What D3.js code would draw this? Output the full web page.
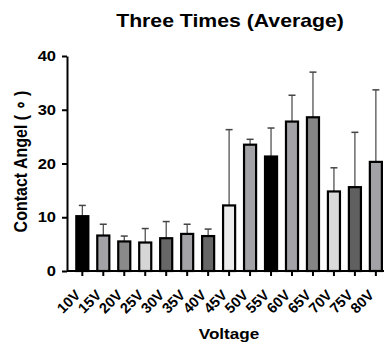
<!DOCTYPE html>
<html>
<head>
<meta charset="utf-8">
<script src="https://cdn.jsdelivr.net/npm/d3@7"></script>
<style>
  html, body { margin: 0; padding: 0; background: #fff; }
  svg { display: block; font-family: "Liberation Sans", Arial, sans-serif; }
</style>
</head>
<body>
<svg id="chart" width="390" height="345"></svg>
<script>
(function() {
    'use strict';

    // Data
    const voltages = ['10V', '15V', '20V', '25V', '30V', '35V', '40V', '45V',
                      '50V', '55V', '60V', '65V', '70V', '75V', '80V'];
    const means = [10.2, 6.6, 5.5, 5.3, 6.1, 6.9, 6.5, 12.2,
                   23.5, 21.3, 27.8, 28.6, 14.8, 15.6, 20.3];
    const errors = [2.0, 2.1, 1.0, 2.6, 3.1, 1.8, 1.3, 14.1,
                    1.0, 5.3, 4.9, 8.4, 4.4, 10.2, 13.4];
    const fills = ['#000000', '#a2a2a7', '#8a8a8a', '#d6d6d6', '#676767', '#a2a2a7', '#666666', '#ececec',
                   '#a2a2a7', '#000000', '#a2a2a7', '#858585', '#dadada', '#606060', '#a2a2a7'];
    const yTicks = [0, 10, 20, 30, 40];

    // the reference lettering is a bit wider than Liberation Sans
    const stretch = 1.18;

    const svg = d3.select('#chart');

    const x = d3.scaleBand()
        .domain(voltages)
        .range([75.3, 382.9])
        .paddingInner(0.33)
        .paddingOuter(0);

    const y = d3.scaleLinear()
        .domain([0, 40])
        .range([271, 56]);

    const axisX0 = 67;
    const axisX1 = 384;

    function label(px, py, txt, size, anchor, rot, sx) {
        const k = sx === undefined ? stretch : sx;
        return svg.append('text')
            .attr('transform', `translate(${px},${py}) scale(${k},1)` + (rot ? ` rotate(${rot})` : ''))
            .attr('text-anchor', anchor)
            .style('font-size', size + 'px')
            .style('font-weight', 'bold')
            .attr('fill', '#000')
            .text(txt);
    }

    // Title
    label(230, 27, 'Three Times (Average)', 18, 'middle');

    // Error bars (drawn first, bars cover the lower part)
    const err = svg.append('g').attr('class', 'errors');
    voltages.forEach((v, i) => {
        const cx = x(v) + x.bandwidth() / 2;
        err.append('line')
            .attr('x1', cx).attr('x2', cx)
            .attr('y1', y(means[i])).attr('y2', y(means[i] + errors[i]))
            .attr('stroke', '#444').attr('stroke-width', 1.2);
        err.append('line')
            .attr('x1', cx - 3.5).attr('x2', cx + 3.5)
            .attr('y1', y(means[i] + errors[i])).attr('y2', y(means[i] + errors[i]))
            .attr('stroke', '#444').attr('stroke-width', 1.5);
    });

    // Bars
    svg.append('g')
        .selectAll('rect')
        .data(voltages)
        .enter()
        .append('rect')
        .attr('x', d => x(d) + 1)
        .attr('width', x.bandwidth() - 2)
        .attr('y', (d, i) => y(means[i]))
        .attr('height', (d, i) => y(0) - y(means[i]))
        .attr('fill', (d, i) => fills[i])
        .attr('stroke', '#000')
        .attr('stroke-width', 2.2);

    // Y axis
    const yAxis = svg.append('g')
        .attr('transform', `translate(${axisX0},0)`)
        .call(d3.axisLeft(y).tickValues(yTicks).tickSize(5).tickSizeOuter(0).tickFormat(''));
    yAxis.select('.domain').attr('stroke', '#000').attr('stroke-width', 2);
    yAxis.selectAll('.tick line').attr('stroke', '#000').attr('stroke-width', 2);
    yTicks.forEach(t => {
        label(axisX0 - 11, y(t) + 5, String(t), 14, 'end');
    });

    // X axis
    const xAxis = svg.append('g')
        .attr('transform', `translate(0,${y(0)})`)
        .call(d3.axisBottom(x).tickSize(5).tickSizeOuter(0).tickFormat(''));
    xAxis.select('.domain').remove();
    xAxis.append('line')
        .attr('x1', axisX0).attr('x2', axisX1)
        .attr('y1', 0).attr('y2', 0)
        .attr('stroke', '#000').attr('stroke-width', 2);
    xAxis.selectAll('.tick line').attr('stroke', '#000').attr('stroke-width', 2);

    // Rotated x tick labels (no stretch, keeps a clean 45 degrees)
    voltages.forEach(v => {
        const cx = x(v) + x.bandwidth() / 2;
        label(cx - 1, y(0) + 25, v, 14.5, 'end', -45, 1);
    });

    // Axis titles
    label(229, 339, 'Voltage', 14.5, 'middle');
    label(27, 161.5, 'Contact Angel ( \u2218 )', 16, 'middle', -90);
})();
</script>
</body>
</html>
